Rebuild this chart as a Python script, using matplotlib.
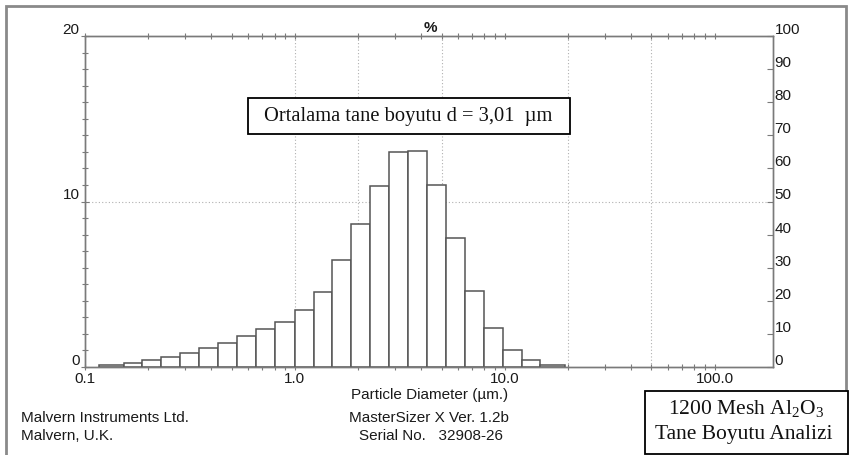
import numpy as np
import matplotlib
matplotlib.use('Agg')
import matplotlib.pyplot as plt
from matplotlib.patches import Rectangle
from matplotlib.ticker import LogLocator, NullFormatter, FixedLocator, FixedFormatter

plt.rcParams['mathtext.fontset'] = 'custom'
plt.rcParams['mathtext.rm'] = 'Liberation Serif'

# size band edges (um) and volume % in each band
edges = [0.117, 0.153, 0.187, 0.230, 0.283, 0.349, 0.430, 0.529, 0.652, 0.803,
         1.00, 1.23, 1.50, 1.85, 2.28, 2.80, 3.45, 4.25, 5.24, 6.45,
         7.94, 9.78, 12.05, 14.7, 19.3]
volume = [0.12, 0.26, 0.40, 0.62, 0.87, 1.13, 1.47, 1.87, 2.28, 2.74,
          3.42, 4.55, 6.45, 8.62, 10.92, 12.97, 13.05, 11.0, 7.77, 4.59,
          2.34, 1.03, 0.42, 0.12]

x_ticks = [0.1, 1.0, 10.0, 100.0]
x_labels = ['0.1', '1.0', '10.0', '100.0']
grid_x = [1, 2, 5, 20, 50]
left_ticks = [0, 10, 20]
right_ticks = list(range(0, 101, 10))

W, H = 849, 456
sans = 'Liberation Sans'
serif = 'Liberation Serif'
axis_col = '#7a7a7a'
text_col = '#1a1a1a'
fs = 11


def fx(px):
    return px / W


def fy(py):
    return 1 - py / H


fig = plt.figure(figsize=(W / 100, H / 100), dpi=100)
ax = fig.add_axes([fx(85), fy(368), fx(773) - fx(85), fy(37) - fy(368)])

e = np.array(edges)
ax.bar(e[:-1], volume, width=np.diff(e), align='edge', color='white',
       edgecolor='#555555', linewidth=1.1, zorder=3)

for g in grid_x:
    ax.axvline(g, color='#b0b0b0', linestyle=(0, (1, 2)), linewidth=0.8, zorder=1)
ax.axhline(10, color='#b0b0b0', linestyle=(0, (1, 2)), linewidth=0.8, zorder=1)

ax.set_xscale('log')
ax.set_xlim(0.1, 190)
ax.set_ylim(0, 20)

ax.xaxis.set_major_locator(FixedLocator(x_ticks))
ax.xaxis.set_major_formatter(FixedFormatter(x_labels))
ax.xaxis.set_minor_locator(LogLocator(base=10, subs=np.arange(2, 10)))
ax.xaxis.set_minor_formatter(NullFormatter())
ax.tick_params(axis='x', which='both', top=True, bottom=True, direction='inout',
               length=4, width=0.8, color=axis_col, labelsize=fs,
               labelcolor=text_col, pad=1)

ax.set_yticks(left_ticks)
ax.set_yticks(np.arange(0, 21, 1), minor=True)
ax.tick_params(axis='y', which='major', left=True, right=False, direction='inout',
               length=6, width=0.8, color=axis_col, labelsize=fs,
               labelcolor=text_col, pad=1)
ax.tick_params(axis='y', which='minor', left=True, right=False, direction='inout',
               length=5, width=0.8, color=axis_col)
for lbl in ax.get_yticklabels():
    lbl.set_va('bottom')
    lbl.set_family(sans)
for lbl in ax.get_xticklabels():
    lbl.set_family(sans)

for s in ax.spines.values():
    s.set_color(axis_col)
    s.set_linewidth(1.0)

ax2 = ax.twinx()
ax2.set_ylim(0, 100)
ax2.set_yticks(right_ticks)
ax2.tick_params(axis='y', direction='in', length=4, width=0.8, color=axis_col,
                labelsize=fs, labelcolor=text_col, pad=1)
for lbl in ax2.get_yticklabels():
    lbl.set_va('bottom')
    lbl.set_family(sans)
for s in ax2.spines.values():
    s.set_color(axis_col)
    s.set_linewidth(1.0)

# texts round the plot
fig.text(fx(430), fy(28), '%', ha='center', va='center', fontsize=fs,
         family=sans, color=text_col, fontweight='bold')
fig.text(fx(430), fy(395), 'Particle Diameter (µm.)', ha='center', va='center',
         fontsize=fs, family=sans, color=text_col)
fig.text(fx(429), fy(418), 'MasterSizer X Ver. 1.2b', ha='center', va='center',
         fontsize=fs, family=sans, color=text_col)
fig.text(fx(431), fy(436), 'Serial No.   32908-26', ha='center', va='center',
         fontsize=fs, family=sans, color=text_col)
fig.text(fx(21), fy(418), 'Malvern Instruments Ltd.', ha='left', va='center',
         fontsize=fs, family=sans, color=text_col)
fig.text(fx(21), fy(436), 'Malvern, U.K.', ha='left', va='center',
         fontsize=fs, family=sans, color=text_col)

# mean size box
fig.add_artist(Rectangle((fx(248), fy(135)), fx(570) - fx(248), fy(99) - fy(135),
                         transform=fig.transFigure, facecolor='white',
                         edgecolor='black', linewidth=1.3, zorder=5))
fig.text(fx(408), fy(117), 'Ortalama tane boyutu d = 3,01  µm', ha='center',
         va='center', fontsize=14.8, family=serif, color='#111111', zorder=6)

# sample box
fig.add_artist(Rectangle((fx(645), fy(455)), fx(848) - fx(645), fy(392) - fy(455),
                         transform=fig.transFigure, facecolor='white',
                         edgecolor='black', linewidth=1.3, zorder=5))
fig.text(fx(746), fy(409), r'1200 Mesh Al$_2$O$_3$', ha='center', va='center',
         fontsize=15.5, family=serif, color='#111111', zorder=6)
fig.text(fx(744), fy(435), 'Tane Boyutu Analizi', ha='center', va='center',
         fontsize=15.5, family=serif, color='#111111', zorder=6)

# outer frame
fig.add_artist(Rectangle((fx(6), -0.05), fx(846) - fx(6), fy(7) + 0.05,
                         transform=fig.transFigure, fill=False,
                         edgecolor='#8a8a8a', linewidth=2))

fig.savefig('out.png', dpi=100)
